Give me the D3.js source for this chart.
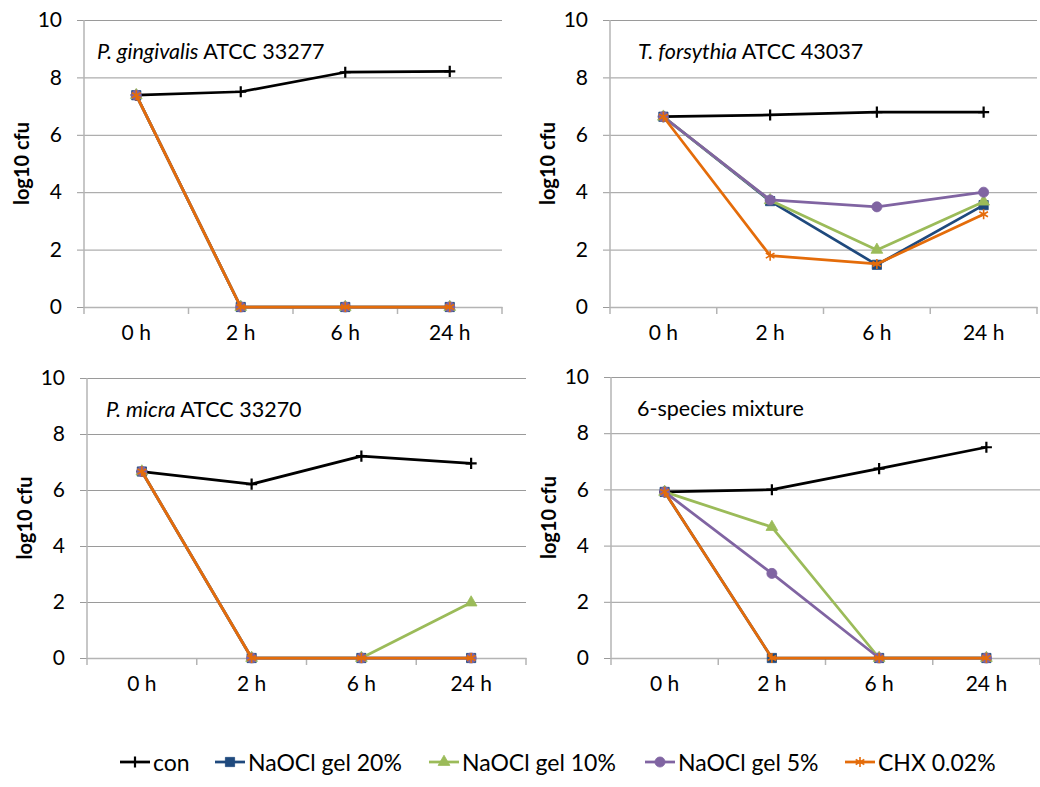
<!DOCTYPE html>
<html>
<head>
<meta charset="utf-8">
<script src="https://cdn.jsdelivr.net/npm/d3@7"></script>
<style>
  html, body { margin: 0; padding: 0; background: #fff; }
  svg { display: block; font-family: Lato, "Open Sans", sans-serif; }
</style>
</head>
<body>
<svg id="chart" width="1040" height="787"></svg>
<script>
// ---- data ----
const categories = ["0 h", "2 h", "6 h", "24 h"];
const yTicks = [0, 2, 4, 6, 8, 10];
const seriesNames = ["con", "NaOCl gel 20%", "NaOCl gel 10%", "NaOCl gel 5%", "CHX 0.02%"];
const seriesColors = ["#000000", "#1F497D", "#9BBB59", "#8064A2", "#E46C0A"];

// P. gingivalis ATCC 33277
const pgCon  = [7.38, 7.50, 8.18, 8.21];
const pg20   = [7.38, 0, 0, 0];
const pg10   = [7.38, 0, 0, 0];
const pg5    = [7.38, 0, 0, 0];
const pgCHX  = [7.38, 0, 0, 0];

// T. forsythia ATCC 43037
const tfCon  = [6.63, 6.69, 6.79, 6.79];
const tf20   = [6.63, 3.69, 1.47, 3.55];
const tf10   = [6.63, 3.72, 1.99, 3.67];
const tf5    = [6.63, 3.73, 3.49, 4.00];
const tfCHX  = [6.63, 1.79, 1.50, 3.23];

// P. micra ATCC 33270
const pmCon  = [6.66, 6.21, 7.21, 6.95];
const pm20   = [6.66, 0, 0, 0];
const pm10   = [6.66, 0, 0, 1.98];
const pm5    = [6.66, 0, 0, 0];
const pmCHX  = [6.66, 0, 0, 0];

// 6-species mixture
const mxCon  = [5.91, 5.99, 6.74, 7.50];
const mx20   = [5.91, 0, 0, 0];
const mx10   = [5.91, 4.66, 0, 0];
const mx5    = [5.91, 3.01, 0, 0];
const mxCHX  = [5.91, 0, 0, 0];

// ---- layout ----
const panels = [
  { titleItalic: "P. gingivalis", titleRest: " ATCC 33277", series: [pgCon, pg20, pg10, pg5, pgCHX],
    left: 84, right: 502, top: 20, bottom: 307, titleDx: 13 },
  { titleItalic: "T. forsythia", titleRest: " ATCC 43037", series: [tfCon, tf20, tf10, tf5, tfCHX],
    left: 610, right: 1037, top: 20, bottom: 307, titleDx: 28 },
  { titleItalic: "P. micra", titleRest: " ATCC 33270", series: [pmCon, pm20, pm10, pm5, pmCHX],
    left: 87, right: 526, top: 378, bottom: 658, titleDx: 19 },
  { titleItalic: "", titleRest: "6-species mixture", series: [mxCon, mx20, mx10, mx5, mxCHX],
    left: 611, right: 1040, top: 377, bottom: 658, titleDx: 26 }
];

const symbolTypes = [d3.symbolPlus, d3.symbolSquare, d3.symbolTriangle, d3.symbolCircle, d3.symbolAsterisk];
const symbolSizes = [42, 85, 60, 80, 70];
const symbolStroked = [true, false, false, false, true];

const svg = d3.select("#chart");
const gridColor = "#9a9a9a";
const axisColor = "#b4b4b4";

function drawMarker(g, i, x, y) {
  const p = g.append("path")
    .attr("d", d3.symbol().type(symbolTypes[i]).size(symbolSizes[i])())
    .attr("transform", `translate(${x},${y})`);
  if (symbolStroked[i]) {
    p.attr("fill", "none").attr("stroke", seriesColors[i]).attr("stroke-width", i === 0 ? 2.2 : 1.6);
  } else {
    p.attr("fill", seriesColors[i]).attr("stroke", seriesColors[i]).attr("stroke-width", 0.8);
  }
}

panels.forEach(pn => {
  const g = svg.append("g");
  const x = d3.scaleBand().domain(categories).range([pn.left, pn.right]).paddingInner(0).paddingOuter(0);
  const y = d3.scaleLinear().domain([0, 10]).range([pn.bottom, pn.top]);
  const w = pn.right - pn.left;

  // gridlines + y labels
  const ya = g.append("g")
    .attr("transform", `translate(${pn.left - 7},0)`)
    .call(d3.axisLeft(y).tickValues(yTicks).tickSize(-(w + 7)).tickPadding(15).tickFormat(d3.format("d")));
  ya.select(".domain").remove();
  ya.selectAll(".tick line").attr("stroke", gridColor).attr("stroke-width", 1);
  ya.selectAll(".tick text").attr("fill", "#000").style("font-size", "21px").style("font-family", "Lato, sans-serif");

  // vertical axis line
  g.append("line")
    .attr("x1", pn.left).attr("x2", pn.left)
    .attr("y1", y(10)).attr("y2", y(0))
    .attr("stroke", axisColor).attr("stroke-width", 1.5);

  // x axis
  const xa = g.append("g")
    .attr("transform", `translate(0,${pn.bottom})`)
    .call(d3.axisBottom(x).tickSize(0).tickPadding(18));
  xa.select(".domain").attr("stroke", axisColor).attr("stroke-width", 1.5);
  xa.selectAll(".tick text").attr("fill", "#000").style("font-size", "21px").style("font-family", "Lato, sans-serif");
  // boundary tick marks
  const bounds = categories.map(c => x(c)).concat([x(categories[categories.length - 1]) + x.bandwidth()]);
  g.selectAll(null).data(bounds).enter().append("line")
    .attr("x1", d => d).attr("x2", d => d)
    .attr("y1", pn.bottom).attr("y2", pn.bottom + 7)
    .attr("stroke", axisColor).attr("stroke-width", 1.5);

  // y-axis title
  g.append("text")
    .attr("transform", `translate(${pn.left - 63},${(pn.top + pn.bottom) / 2}) rotate(-90)`)
    .attr("text-anchor", "middle")
    .attr("dominant-baseline", "central")
    .style("font-size", "20px").style("font-weight", "bold")
    .text("log10 cfu");

  // panel title
  const t = g.append("text")
    .attr("x", pn.left + pn.titleDx)
    .attr("y", pn.top + 39)
    .style("font-size", "21.5px");
  if (pn.titleItalic) t.append("tspan").style("font-style", "italic").text(pn.titleItalic);
  t.append("tspan").text(pn.titleRest);

  // series
  const cx = c => x(c) + x.bandwidth() / 2;
  const line = d3.line().x((d, i) => cx(categories[i])).y(d => y(d));
  pn.series.forEach((vals, si) => {
    g.append("path")
      .attr("d", line(vals))
      .attr("fill", "none")
      .attr("stroke", seriesColors[si])
      .attr("stroke-width", 2.75)
      .attr("stroke-linejoin", "round");
    vals.forEach((v, i) => drawMarker(g, si, cx(categories[i]), y(v)));
  });
});

// ---- legend ----
const legendStarts = [120, 215, 429, 645, 845];
const legendY = 762;
const lg = svg.append("g");
seriesNames.forEach((name, i) => {
  const x0 = legendStarts[i];
  lg.append("line")
    .attr("x1", x0).attr("x2", x0 + 30)
    .attr("y1", legendY).attr("y2", legendY)
    .attr("stroke", seriesColors[i]).attr("stroke-width", 2.75);
  drawMarker(lg, i, x0 + 15, legendY);
  lg.append("text")
    .attr("x", x0 + 33).attr("y", legendY)
    .attr("dominant-baseline", "central")
    .style("font-size", "23px")
    .text(name);
});
</script>
</body>
</html>
